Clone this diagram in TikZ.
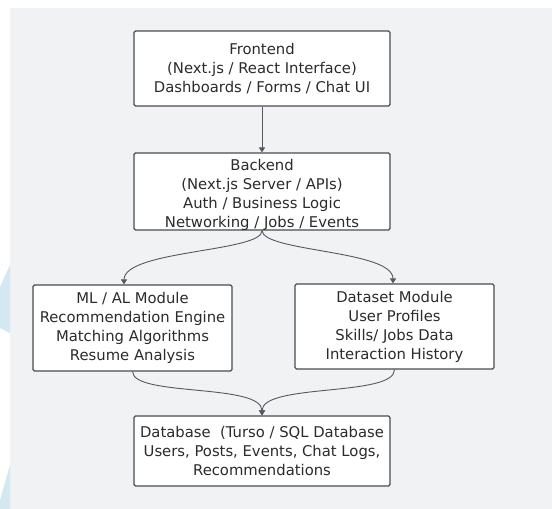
\documentclass[tikz,border=0pt]{standalone}
\usepackage{fontspec}
\setmainfont{DejaVu Sans}
\usetikzlibrary{arrows.meta}
\definecolor{panel}{HTML}{F1F2F4}
\definecolor{edgeblue}{HTML}{D3E8F1}
\definecolor{boxline}{HTML}{4A4C50}
\definecolor{txt}{HTML}{2B2B2B}
\definecolor{conn}{HTML}{55595F}
\tikzset{
  boxnode/.style={draw=boxline, line width=1.1pt, fill=white, rounded corners=1.5pt,
    align=center, text=txt, inner sep=0pt, boxfont},
  boxfont/.style={font=\fontsize{14.8}{19}\selectfont},
  textonly/.style={align=center, text=txt, inner sep=0pt, boxfont},
  connector/.style={draw=conn, line width=0.9pt, -{Triangle[length=5pt,width=6pt]}}
}
\begin{document}
\begin{tikzpicture}[x=1pt,y=-1pt]
\useasboundingbox (0,0) rectangle (552,509);
\fill[white] (0,0) rectangle (552,509);
\fill[panel] (10,8) rectangle (552,509);
\fill[edgeblue] (0,287) -- (10,265) -- (10,333) -- (0,328) -- cycle;
\fill[edgeblue] (0,500) -- (10,465) -- (10,509) -- (0,509) -- cycle;

\node[boxnode, minimum width=256pt, minimum height=75pt] (fe) at (262,68.5)
  {Frontend\\(Next.js / React Interface)\\Dashboards / Forms / Chat UI};
\node[boxnode, minimum width=256pt, minimum height=77pt] (be) at (262,191.5) {};
\node[textonly] (betext) at (262,195)
  {Backend\\(Next.js Server / APIs)\\Auth / Business Logic\\Networking / Jobs / Events};
\node[boxnode, minimum width=199pt, minimum height=86pt] (ml) at (132.5,328)
  {ML / AL Module\\Recommendation Engine\\Matching Algorithms\\Resume Analysis};
\node[boxnode, minimum width=199pt, minimum height=85pt] (ds) at (394.5,326.5)
  {Dataset Module\\User Profiles\\Skills/ Jobs Data\\Interaction History};
\node[boxnode, minimum width=256pt, minimum height=70pt] (db) at (262,451)
  {Database\ \ (Turso / SQL Database\\Users, Posts, Events, Chat Logs,\\Recommendations};

\draw[connector] (fe.south) -- (be.north);
\draw[connector] (be.south) .. controls (263,252) and (124,250) .. ([xshift=-8.5pt]ml.north);
\draw[connector] (be.south) .. controls (263,252) and (393,250) .. ([xshift=-1.5pt]ds.north);
\draw[connector] (ml.south) .. controls (133,397) and (262,383) .. (db.north);
\draw[connector] (ds.south) .. controls (395,397) and (262,383) .. (db.north);
\end{tikzpicture}
\end{document}
